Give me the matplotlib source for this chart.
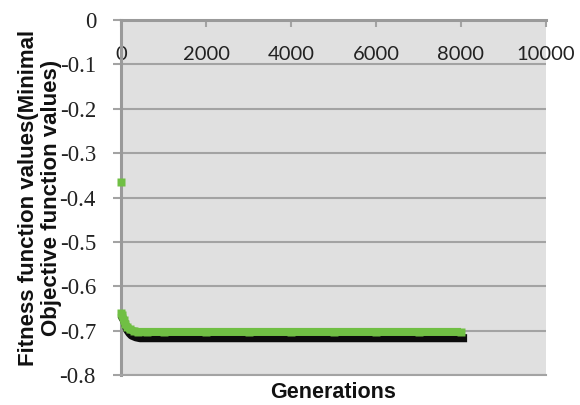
import matplotlib
matplotlib.use("Agg")
import matplotlib.pyplot as plt
from matplotlib.transforms import ScaledTranslation

# ---- data ----
generations = [0, 2, 30, 60, 100, 150, 200, 300, 400, 600, 1000, 2000, 3000, 4000, 5000, 6000, 7000, 8000]
fitness = [-0.365, -0.660, -0.665, -0.675, -0.685, -0.692, -0.697, -0.701, -0.703, -0.703,
           -0.703, -0.703, -0.703, -0.703, -0.703, -0.703, -0.703, -0.703]
x_ticks = [0, 2000, 4000, 6000, 8000, 10000]
x_tick_labels = ["0", "2000", "4000", "6000", "8000", "10000"]
y_ticks = [0, -0.1, -0.2, -0.3, -0.4, -0.5, -0.6, -0.7, -0.8]
y_tick_labels = ["0", "-0.1", "-0.2", "-0.3", "-0.4", "-0.5", "-0.6", "-0.7", "-0.8"]
x_label = "Generations"
y_label = "Fitness function values(Minimal\nObjective function values)"

W, H = 580, 405
fig = plt.figure(figsize=(W / 100, H / 100), dpi=100)
ax = fig.add_axes([121 / W, 1 - 375 / H, 425 / W, 355 / H])
ax.set_facecolor("#e0e0e0")
ax.set_xlim(0, 10000)
ax.set_ylim(-0.8, 0)

grid_c = "#a3a3a3"
ax.set_yticks(y_ticks)
ax.set_yticklabels(y_tick_labels)
for lab in ax.get_yticklabels():
    lab.set_fontfamily(["Liberation Serif", "DejaVu Serif"])
    lab.set_fontsize(16.5)
    lab.set_color("#222222")
ax.yaxis.grid(True, color=grid_c, lw=1.5)
ax.set_axisbelow(True)
ax.tick_params(axis="y", direction="out", length=6, width=1.5, color=grid_c, pad=12)

ax.xaxis.tick_top()
ax.set_xticks(x_ticks)
ax.set_xticklabels(x_tick_labels)
for lab in ax.get_xticklabels():
    lab.set_fontfamily(["Lato", "DejaVu Sans"])
    lab.set_fontsize(14.5)
    lab.set_color("#222222")
ax.tick_params(axis="x", direction="in", length=5, width=1.5, color=grid_c, pad=-31)

ax.spines["right"].set_visible(False)
ax.spines["left"].set_color("#9a9a9a")
ax.spines["left"].set_linewidth(2.2)
ax.spines["top"].set_color("#9a9a9a")
ax.spines["top"].set_linewidth(2.2)
ax.spines["bottom"].set_color(grid_c)
ax.spines["bottom"].set_linewidth(1.5)

green = "#70bf44"
shadow_tr = ax.transData + ScaledTranslation(1.5 / 72, -4.5 / 72, fig.dpi_scale_trans)
# shadow under the converged part of the series
ax.plot(generations[1:], fitness[1:], color="#000000", lw=5.8, solid_capstyle="projecting",
        transform=shadow_tr, zorder=3, clip_on=False, alpha=0.95)
# series
ax.plot(generations[1:], fitness[1:], color=green, lw=5.8, solid_capstyle="butt",
        zorder=4, clip_on=False)
ax.plot(generations, fitness, ls="none", marker="s", ms=5.8, mfc=green, mec="none",
        zorder=4, clip_on=False)

fig.text(333 / W, 1 - 393 / H, x_label, ha="center", va="center", fontsize=15.5,
         fontweight="bold", family="Liberation Sans", color="#111111")
fig.text(40 / W, 1 - 198 / H, y_label, ha="center", va="center", rotation=90,
         multialignment="center", linespacing=1.15, fontsize=16, fontweight="bold",
         family="Liberation Sans", color="#111111")

fig.savefig("out.png", dpi=100)
